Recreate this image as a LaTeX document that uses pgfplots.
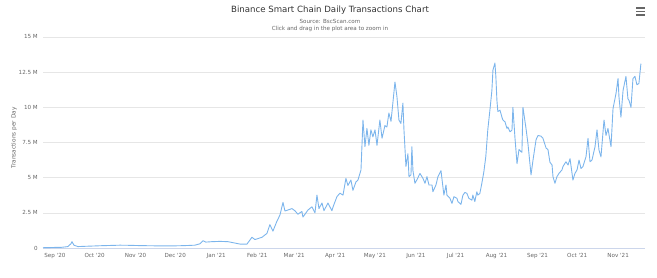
\documentclass[border=0pt]{standalone}
\usepackage{fontspec}
\setmainfont{DejaVu Sans}
\usepackage{pgfplots}
\pgfplotsset{compat=1.18}

\definecolor{series}{HTML}{7CB5EC}
\definecolor{gridc}{HTML}{E6E6E6}
\definecolor{axisc}{HTML}{CCD6EB}
\definecolor{titlec}{HTML}{333333}
\definecolor{labc}{HTML}{666666}

% Daily transactions (millions); x = days since 1 Sep 2020
\pgfplotstableread{
d v
-9 0.02
-4 0.03
0 0.04
5.3 0.05
9.8 0.10
12.1 0.30
12.9 0.45
14.4 0.20
17.4 0.10
22.7 0.12
28.7 0.14
34 0.16
41.6 0.18
49.2 0.20
56.7 0.19
64.3 0.17
71.9 0.16
79.4 0.15
89.3 0.15
98.3 0.17
105.9 0.20
109.7 0.30
112 0.52
114.2 0.42
118.8 0.45
124.8 0.47
130.9 0.45
136.2 0.35
139.9 0.28
145.2 0.27
149 0.76
151.3 0.60
156.6 0.76
160.4 1.04
162.6 1.66
164.9 1.20
167.9 1.90
170.2 2.34
172.5 3.24
174 2.63
176.2 2.70
179.3 2.80
181.5 2.65
183.8 2.40
186.8 2.60
187.6 2.20
191.4 2.70
194.4 2.93
196.7 2.50
198.2 3.76
199.7 2.80
202 3.20
203.5 2.65
206.5 3.20
209.5 2.65
210.3 2.90
213.3 3.65
215.6 3.90
217.9 3.76
220.1 4.95
221.6 4.45
223.9 4.83
225.4 4.10
227.7 4.70
229.2 4.83
231.5 5.55
233 9.10
234.5 7.20
236 8.50
237.5 7.30
239 8.40
240.5 7.90
242.1 8.40
243.6 7.30
245.8 9.10
247.4 7.80
249.6 8.70
251.1 8.60
252.6 9.60
254.2 9.00
255.7 10.40
257.2 11.80
258.7 10.75
260.2 9.10
261.7 8.85
263.2 10.30
264 8.40
265.5 5.80
267 6.70
267.8 5.07
269.3 5.20
270 7.20
270.8 5.50
272.3 4.60
273.8 4.85
276.1 5.30
278.4 4.95
279.9 4.60
281.4 5.07
282.9 4.48
285.2 4.48
285.9 4.00
288.2 4.48
289.7 5.07
292 5.50
292.7 4.95
294.2 3.76
295.8 4.48
296.5 3.76
298.8 3.53
300.3 3.17
301.8 3.65
304.1 3.53
304.8 3.30
307.1 3.10
308.6 3.76
310.1 3.95
311.6 3.88
313.1 3.53
315.4 3.40
316.1 3.76
317.6 3.30
319.1 4.00
319.9 3.76
321.4 3.88
322.9 4.60
324.4 5.40
325.9 6.50
327.4 8.40
329 9.80
330.5 11.20
331.3 12.65
332.8 13.15
333.5 12.20
334.3 10.50
335 9.70
336.6 9.80
338.1 9.30
338.8 9.10
340.4 8.97
341.9 8.50
342.6 8.60
344.2 8.26
345.7 8.38
346.4 10.00
347.9 7.90
349.5 6.00
351 7.00
352.5 6.85
353.2 6.80
354 10.00
356.3 8.50
357.8 7.40
360.1 5.20
361.6 6.25
363.9 7.70
365.4 8.00
367.7 7.95
369.1 7.80
371.5 7.10
372.9 7.00
374.4 6.10
376 5.90
376.7 5.07
378.2 4.60
379.7 5.07
381.2 5.30
383.5 5.55
384.3 5.80
386.5 6.13
388.1 5.90
389.6 6.35
391.8 4.83
393.3 5.30
394.9 5.55
396.4 6.25
397.9 5.65
399.4 5.80
401.7 6.50
403.2 7.80
404.7 6.13
406.2 6.25
408.5 7.20
410 8.40
411.5 6.96
413 6.48
415.3 9.10
416.8 8.00
418.3 8.50
420.6 7.20
422.1 9.90
424.4 11.00
425.9 12.05
426.6 10.75
428.1 9.30
429.7 11.20
431.9 12.20
433.4 10.60
434.2 10.50
435.7 10.00
437.2 12.05
438.7 12.20
440.2 11.60
441.7 11.70
443.2 13.10
}\txdata

\begin{document}
\begin{tikzpicture}[x=1pt,y=1pt]
\begin{axis}[
  at={(43pt,30pt)}, anchor=south west,
  scale only axis, width=602pt, height=211pt,
  xmin=-9, xmax=446.3, ymin=0, ymax=15,
  axis lines*=left, separate axis lines,
  x axis line style={draw=axisc, line width=0.6pt},
  y axis line style={draw=none},
  major tick length=0pt,
  ymajorgrids, grid style={draw=gridc, line width=0.6pt},
  ytick={0,2.5,5,7.5,10,12.5,15},
  yticklabels={0,2.5 M,5 M,7.5 M,10 M,12.5 M,15 M},
  xtick={0,30,61,91,122,153,181,212,242,273,303,334,365,395,426},
  xticklabels={Sep \textquotesingle20,Oct \textquotesingle20,Nov \textquotesingle20,Dec \textquotesingle20,Jan \textquotesingle21,Feb \textquotesingle21,Mar \textquotesingle21,Apr \textquotesingle21,May \textquotesingle21,Jun \textquotesingle21,Jul \textquotesingle21,Aug \textquotesingle21,Sep \textquotesingle21,Oct \textquotesingle21,Nov \textquotesingle21},
  yticklabel style={font=\fontsize{5.6}{6}\selectfont, text=labc, inner sep=0pt, xshift=-5pt},
  xticklabel style={font=\fontsize{5.6}{6}\selectfont, text=labc, inner sep=0pt, yshift=-5pt},
  clip=false,
]
\addplot[series, line width=0.9pt, line join=round] table[x=d, y=v] {\txdata};
\end{axis}

% titles
\node[text=titlec, font=\fontsize{8.6}{10}\selectfont] at (330,268) {Binance Smart Chain Daily Transactions Chart};
\node[text=labc, font=\fontsize{5.6}{6}\selectfont] at (330,257) {Source: BscScan.com};
\node[text=labc, font=\fontsize{5.6}{6}\selectfont] at (330,249.5) {Click and drag in the plot area to zoom in};

% axis title
\node[text=labc, rotate=90, font=\fontsize{5.8}{6}\selectfont] at (14,140) {Transactions per Day};

% menu icon
\foreach \yy in {270,266.5,263}
  \draw[labc, line width=1.3pt] (636,\yy) -- (645,\yy);

% page frame
\pgfresetboundingbox
\useasboundingbox (0,0) rectangle (657,278);
\end{tikzpicture}
\end{document}
